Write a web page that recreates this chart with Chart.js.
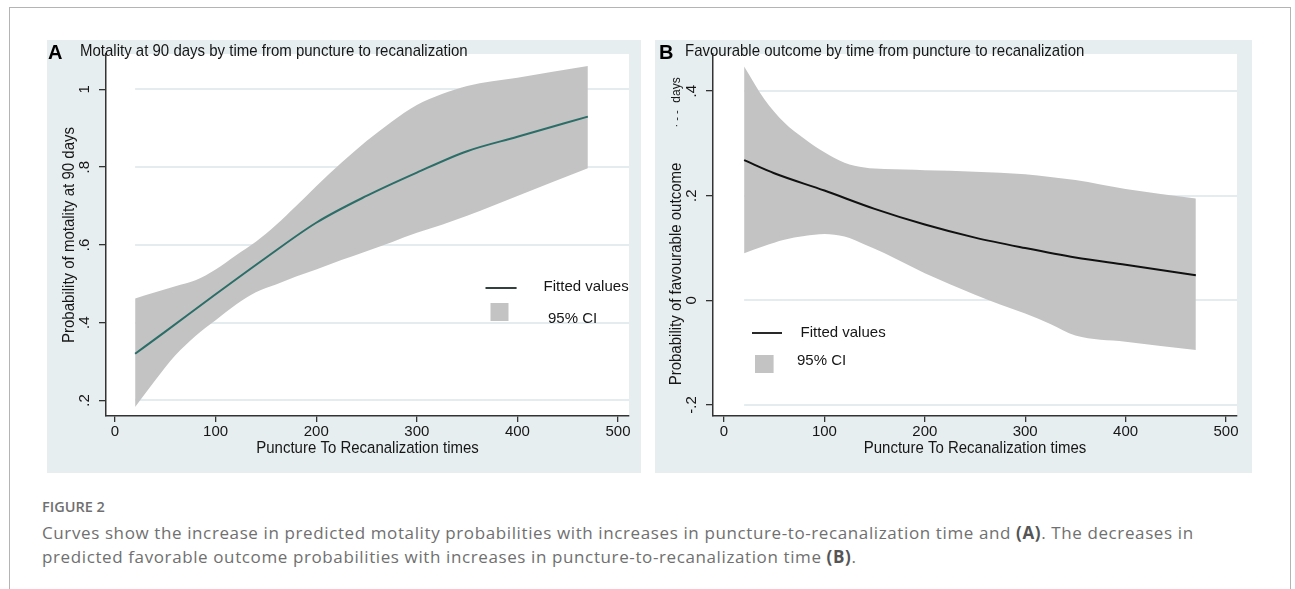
<!DOCTYPE html>
<html>
<head>
<meta charset="utf-8">
<script src="https://cdn.jsdelivr.net/npm/chart.js@4.4.1/dist/chart.umd.min.js"></script>
<style>
  body { margin: 0; background: #fff; }
  #page { position: relative; width: 1295px; height: 589px; overflow: hidden; font-family: "Liberation Sans", Arial, sans-serif; }
  #frame { position: absolute; left: 9px; top: 7px; width: 1280px; height: 600px; border: 1px solid #b4b4b4; border-bottom: none; }
  .panel { position: absolute; top: 40px; height: 433px; background: #e7eef0; }
  #panelA { left: 47px; width: 594px; }
  #panelB { left: 655px; width: 597px; }
  .cap { position: absolute; left: 42px; font-family: "Open Sans", sans-serif; color: #707070; white-space: nowrap; }
  .cap b { color: #555; }
  #figLabel { top: 498px; font-size: 14.5px; line-height: 18px; font-weight: 600; }
  .capLine { font-size: 17px; line-height: 22px; letter-spacing: 0.61px; }
</style>
</head>
<body>
<div id="page">
  <div id="frame"></div>
  <div class="panel" id="panelA"><canvas id="chartA"></canvas></div>
  <div class="panel" id="panelB"><canvas id="chartB"></canvas></div>
  <div class="cap" id="figLabel">FIGURE 2</div>
  <div class="cap capLine" style="top:522px">Curves show the increase in predicted motality probabilities with increases in puncture-to-recanalization time and <b>(A)</b>. The decreases in</div>
  <div class="cap capLine" style="top:546px">predicted favorable outcome probabilities with increases in puncture-to-recanalization time <b>(B)</b>.</div>
</div>
<script>
// puncture-to-recanalization time (x) and predicted probabilities
const xTicks = [0, 100, 200, 300, 400, 500];
const yTicksA = [0.2, 0.4, 0.6, 0.8, 1];
const yTicksB = [-0.2, 0, 0.2, 0.4];

const bandX = [20, 40, 60, 80, 100, 120, 140, 160, 180, 200, 225, 250, 275, 300, 325, 350, 400, 470];
const upperA = [0.462, 0.478, 0.494, 0.509, 0.537, 0.573, 0.608, 0.651, 0.700, 0.751, 0.811, 0.867, 0.917, 0.960, 0.988, 1.009, 1.030, 1.060];
const lowerA = [0.183, 0.252, 0.316, 0.366, 0.406, 0.446, 0.478, 0.498, 0.519, 0.537, 0.561, 0.584, 0.607, 0.631, 0.652, 0.675, 0.726, 0.797];
const upperB = [0.447, 0.385, 0.340, 0.309, 0.283, 0.263, 0.254, 0.251, 0.250, 0.249, 0.248, 0.246, 0.244, 0.241, 0.236, 0.230, 0.213, 0.195];
const lowerB = [0.090, 0.104, 0.116, 0.123, 0.127, 0.122, 0.107, 0.090, 0.071, 0.052, 0.031, 0.011, -0.008, -0.025, -0.045, -0.067, -0.079, -0.095];

const fitX = [20, 50, 100, 150, 200, 250, 300, 350, 400, 470];
const fitA = [0.32, 0.377, 0.473, 0.567, 0.657, 0.726, 0.786, 0.841, 0.878, 0.930];
const fitB = [0.268, 0.243, 0.210, 0.175, 0.145, 0.120, 0.100, 0.082, 0.068, 0.048];

const FONT = '"Liberation Sans", Arial, sans-serif';
const INK = '#161616';

function pts(xs, ys) {
  return xs.map((x, i) => ({ x: x, y: ys[i] }));
}

// stata style labels: .2, -.2, 0, 1
function fmt(v) {
  if (v === 0) return '0';
  const s = String(Math.abs(v)).replace(/^0\./, '.');
  return (v < 0 ? '-' : '') + s;
}

function stretchText(ctx, text, x, y, sy) {
  ctx.save();
  ctx.translate(x, y);
  ctx.scale(1, sy);
  ctx.fillText(text, 0, 0);
  ctx.restore();
}

const stataPlot = {
  id: 'stataPlot',
  beforeDraw(chart, args, o) {
    const { ctx, chartArea: a, scales: { x, y } } = chart;
    ctx.save();
    ctx.fillStyle = '#fff';
    ctx.fillRect(a.left, a.top, a.right - a.left, a.bottom - a.top);
    ctx.strokeStyle = '#e4ecef';
    ctx.lineWidth = 2;
    const gx0 = x.getPixelForValue(o.gridFrom);
    y.ticks.forEach(t => {
      const py = Math.round(y.getPixelForValue(t.value));
      ctx.beginPath();
      ctx.moveTo(gx0, py);
      ctx.lineTo(a.right, py);
      ctx.stroke();
    });
    ctx.restore();
  },
  afterDraw(chart, args, o) {
    const { ctx, chartArea: a, scales: { x, y } } = chart;
    ctx.save();
    ctx.fillStyle = INK;
    ctx.font = '15px ' + FONT;
    ctx.textAlign = 'center';
    ctx.textBaseline = 'middle';

    x.ticks.forEach(t => {
      ctx.fillText(fmt(t.value), x.getPixelForValue(t.value), a.bottom + 16);
    });
    y.ticks.forEach(t => {
      ctx.save();
      ctx.translate(a.left - 21, y.getPixelForValue(t.value));
      ctx.rotate(-Math.PI / 2);
      ctx.fillText(fmt(t.value), 0, 0);
      ctx.restore();
    });

    // axis titles
    stretchText(ctx, o.xTitle, (a.left + a.right) / 2, a.bottom + 33, 1.05);
    ctx.save();
    ctx.translate(a.left - 36, o.yTitleY != null ? o.yTitleY : (a.top + a.bottom) / 2);
    ctx.rotate(-Math.PI / 2);
    ctx.scale(1, 1.05);
    ctx.fillText(o.yTitle, 0, 0);
    ctx.restore();
    (o.extras || []).forEach(e => {
      ctx.save();
      ctx.font = e.size + 'px ' + FONT;
      ctx.translate(a.left - 36, e.y);
      ctx.rotate(-Math.PI / 2);
      ctx.fillText(e.text, 0, 0);
      ctx.restore();
    });

    // panel letter and title
    ctx.textAlign = 'left';
    ctx.textBaseline = 'alphabetic';
    ctx.font = 'bold 20px ' + FONT;
    ctx.fillStyle = '#000';
    ctx.fillText(o.letter, o.letterX, 19);
    ctx.font = '15px ' + FONT;
    ctx.fillStyle = INK;
    stretchText(ctx, o.title, o.titleX, 16, 1.12);

    // legend
    const L = o.legend;
    ctx.strokeStyle = L.lineColor;
    ctx.lineWidth = 1.8;
    ctx.beginPath();
    ctx.moveTo(L.lineX[0], L.lineY);
    ctx.lineTo(L.lineX[1], L.lineY);
    ctx.stroke();
    ctx.fillStyle = '#c3c3c3';
    ctx.fillRect(L.sw[0], L.sw[1], L.sw[2], L.sw[3]);
    ctx.fillStyle = INK;
    ctx.textBaseline = 'middle';
    ctx.fillText(chart.data.datasets[0].label, L.text1[0], L.text1[1]);
    ctx.fillText(chart.data.datasets[1].label, L.text2[0], L.text2[1]);
    ctx.restore();
  }
};

function makeChart(id, o) {
  return new Chart(document.getElementById(id), {
    type: 'line',
    data: {
      datasets: [
        { label: 'Fitted values', data: pts(fitX, o.fit), borderColor: o.lineColor, borderWidth: 2,
          pointRadius: 0, fill: false, cubicInterpolationMode: 'monotone' },
        { label: '95% CI', data: pts(bandX, o.upper), borderColor: 'rgba(0,0,0,0)', borderWidth: 0,
          backgroundColor: '#c3c3c3', pointRadius: 0, fill: '+1', cubicInterpolationMode: 'monotone' },
        { label: 'lower', data: pts(bandX, o.lower), borderColor: 'rgba(0,0,0,0)', borderWidth: 0,
          pointRadius: 0, fill: false, cubicInterpolationMode: 'monotone' }
      ]
    },
    options: {
      responsive: true,
      maintainAspectRatio: false,
      animation: false,
      layout: { padding: { left: 0, top: 14, right: o.padRight, bottom: 0 } },
      plugins: { legend: { display: false }, tooltip: { enabled: false }, stataPlot: o.text },
      scales: {
        x: {
          type: 'linear', min: o.xMin, max: o.xMax,
          afterBuildTicks: s => { s.ticks = xTicks.map(v => ({ value: v })); },
          afterFit: s => { s.height = 57; },
          grid: { drawOnChartArea: false, drawTicks: true, tickLength: 6, tickColor: '#333', lineWidth: 1.3 },
          border: { color: '#333', width: 1.5 },
          ticks: { color: 'rgba(0,0,0,0)' }
        },
        y: {
          type: 'linear', min: o.yMin, max: o.yMax,
          afterBuildTicks: s => { s.ticks = o.yTicks.map(v => ({ value: v })); },
          afterFit: s => { s.width = o.axisW; },
          grid: { drawOnChartArea: false, drawTicks: true, tickLength: 7, tickColor: '#333', lineWidth: 1.3 },
          border: { color: '#333', width: 1.5 },
          ticks: { color: 'rgba(0,0,0,0)' }
        }
      }
    },
    plugins: [stataPlot]
  });
}

makeChart('chartA', {
  fit: fitA, upper: upperA, lower: lowerA, lineColor: '#2b6d67',
  xMin: -8.95, xMax: 510.9, yMin: 0.160, yMax: 1.091, yTicks: yTicksA,
  axisW: 59, padRight: 12,
  text: {
    gridFrom: 20, letter: 'A', letterX: 1, titleX: 33,
    title: 'Motality at 90 days by time from puncture to recanalization',
    xTitle: 'Puncture To Recanalization times',
    yTitle: 'Probability of motality at 90 days',
    legend: { lineColor: '#1e2b2a', lineX: [438.5, 469.6], lineY: 248, text1: [496.6, 247],
              sw: [443.5, 263, 18, 18], text2: [501, 279] }
  }
});

makeChart('chartB', {
  fit: fitB, upper: upperB, lower: lowerB, lineColor: '#111',
  xMin: -11, xMax: 511, yMin: -0.221, yMax: 0.471, yTicks: yTicksB,
  axisW: 58, padRight: 15,
  text: {
    gridFrom: 20, letter: 'B', letterX: 4, titleX: 30,
    title: 'Favourable outcome by time from puncture to recanalization',
    xTitle: 'Puncture To Recanalization times',
    yTitle: 'Probability of favourable outcome', yTitleY: 234,
    extras: [{ text: 'days', y: 50, size: 12 }, { text: '· - -', y: 79, size: 11 }],
    legend: { lineColor: '#111', lineX: [97, 127], lineY: 293, text1: [145.6, 293],
              sw: [100, 315, 18.6, 18], text2: [142, 321] }
  }
});
</script>
</body>
</html>
